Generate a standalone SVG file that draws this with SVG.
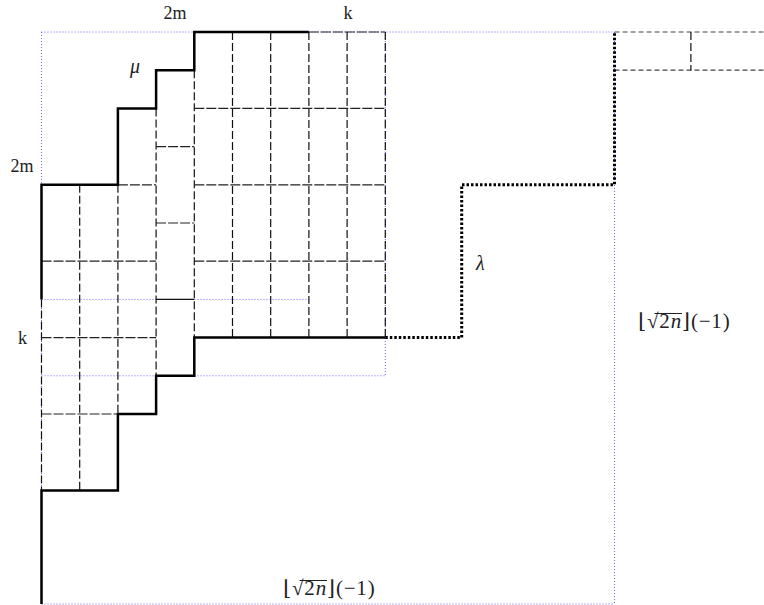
<svg xmlns="http://www.w3.org/2000/svg" width="764" height="605" viewBox="0 0 764 605">
<style>
.blue{stroke:#6a6aff;stroke-width:1;stroke-dasharray:1 2;fill:none}
.dv{stroke:#111;stroke-width:1.2;stroke-dasharray:8 3;fill:none}
.dh{stroke:#222;stroke-width:1.2;stroke-dasharray:10 2;fill:none}
.dr{stroke:#444;stroke-width:1.2;stroke-dasharray:5 3;fill:none}
.thin{stroke:#111;stroke-width:1.2;fill:none}
.ov{stroke:#222;stroke-width:1;fill:none}
.mu{stroke:#000;stroke-width:2.5;fill:none}
.lam{stroke:#000;stroke-width:3;stroke-dasharray:2.5 2;fill:none}
text{font-family:"Liberation Serif","DejaVu Serif",serif;fill:#222}
.lbl{font-size:18px}
.math{font-size:20px;font-style:italic}
.fl{font-size:21px;letter-spacing:0.8px}
.it{font-style:italic}
</style>
<rect width="764" height="605" fill="#fff"/>
<g id="frame">
<path class="blue" d="M41.5,32H614.5M41.5,32V604M41.5,604H614.5M614.5,32V604M385.3,32V375.8M41.5,375.8H385.3M41.5,299.4H308.9"/>
</g>
<g id="grid">
<path class="dv" d="M41.5,299.4V490.4M79.7,184.8V490.4M117.9,184.8V414M156.1,108.4V375.8M194.3,70.2V337.6M232.5,32V337.6M270.7,32V337.6M308.9,32V337.6M347.1,32V337.6M385.3,32V337.6"/>
<path class="dh" d="M194.3,108.4H385.3M156.1,146.6H194.3M117.9,184.8H156.1M194.3,184.8H385.3M156.1,223H194.3M41.5,261.2H156.1M194.3,261.2H385.3M41.5,337.6H156.1M41.5,414H117.9M308.9,32H385.3"/>
<path class="thin" d="M156.1,299.4H194.3"/>
</g>
<g id="corner">
<path class="dr" d="M614.5,32H764M614.5,70.2H764"/>
<path class="dv" d="M690.9,32V70.2"/>
</g>
<g id="mu">
<path class="mu" d="M41.5,604V490.4H117.9V414H156.1V375.8H194.3V337.6H385.3"/>
<path class="mu" d="M41.5,299.4V184.8H117.9V108.4H156.1V70.2H194.3V32H308.9"/>
<text class="math" x="130" y="73">μ</text>
</g>
<g id="lambda">
<path class="lam" d="M385.3,337.6H461.7V184.8H614.5V32"/>
<text class="math" x="476" y="270">λ</text>
</g>
<g id="labels">
<text class="lbl" x="175" y="19" text-anchor="middle">2m</text>
<text class="lbl" x="348" y="19" text-anchor="middle">k</text>
<text class="lbl" x="22" y="172" text-anchor="middle">2m</text>
<text class="lbl" x="22.5" y="344" text-anchor="middle">k</text>
</g>
<g id="label-right">
<path class="ov" d="M654.5,313.5H682"/>
<text class="fl" x="638" y="327.5">⌊√2<tspan class="it">n</tspan>⌋(−1)</text>
</g>
<g id="label-bottom">
<path class="ov" d="M299.5,580.5H327"/>
<text class="fl" x="283" y="594.5">⌊√2<tspan class="it">n</tspan>⌋(−1)</text>
</g>
</svg>
